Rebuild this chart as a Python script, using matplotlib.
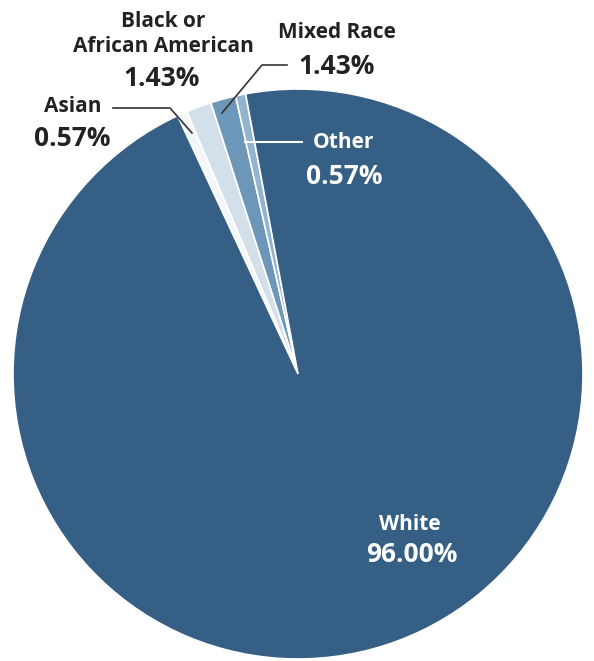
import matplotlib.pyplot as plt

# race breakdown
labels = ["Asian", "Black or\nAfrican American", "Mixed Race", "Other", "White"]
values = [0.57, 1.43, 1.43, 0.57, 96.00]
colors = ["#f4f7fa", "#d3e0ea", "#6d97b8", "#93b4ce", "#365f86"]

W, H = 594, 661
plt.rcParams['font.family'] = ['Open Sans', 'DejaVu Sans']

fig = plt.figure(figsize=(W / 100, H / 100), dpi=100)
ax = fig.add_axes([0, 0, 1, 1])

cx, cy, r = 298, H - 374, 285
ax.pie(values, colors=colors, startangle=115, counterclock=False,
       center=(cx, cy), radius=r,
       wedgeprops=dict(edgecolor='white', linewidth=1.2))
ax.set_xlim(0, W)
ax.set_ylim(0, H)
ax.set_aspect('equal')
ax.axis('off')

def px(x, y):
    return x, H - y

# label placement (pixel coords from top-left): name pos, pct pos, text colour
name_pos = [(73, 107), (163, 34), (337, 33), (343, 143), (410, 525)]
pct_pos = [(72, 139), (162, 78), (337, 67), (344, 176), (412, 555)]
txt_col = ["#222222", "#222222", "#222222", "white", "white"]

for lab, v, npos, ppos, c in zip(labels, values, name_pos, pct_pos, txt_col):
    ax.text(*px(*npos), lab, ha='center', va='center', fontsize=15,
            fontweight='bold', color=c, linespacing=1.25)
    ax.text(*px(*ppos), f"{v:.2f}%", ha='center', va='center', fontsize=19,
            fontweight='bold', color=c)

# leader lines
ax.plot(*zip(px(113, 108), px(170, 108), px(192, 133)), color='#333333', lw=1.2)
ax.plot(*zip(px(222, 113), px(262, 65), px(287, 65)), color='#333333', lw=1.2)
ax.plot(*zip(px(245, 142), px(302, 142)), color='white', lw=1.5)

fig.savefig("out.png", dpi=100)
